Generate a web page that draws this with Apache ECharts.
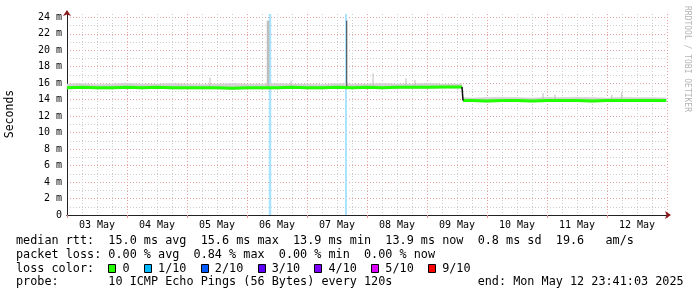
<!DOCTYPE html>
<html>
<head>
<meta charset="utf-8">
<script src="https://cdn.jsdelivr.net/npm/echarts@6/dist/echarts.min.js"></script>
<style>
html,body{margin:0;padding:0;background:#fff}
#main{width:697px;height:297px}
</style>
</head>
<body>
<div id="main"></div>
<script>
// hours since 03 May 00:00
var hours = [0,6,12,18,24,30,36,42,48,54,60,66,72,78,84,90,96,102,108,114,120,126,132,138,144,150,156,
  158,158.2,158.4,162,168,174,180,186,192,198,204,210,216,222,228,234,239.7];
// median rtt in ms
var median = [15.45,15.5,15.45,15.45,15.5,15.45,15.5,15.45,15.45,15.45,15.45,15.4,15.45,15.45,15.45,15.5,15.45,15.45,15.5,15.45,15.5,15.45,15.5,15.5,15.5,15.55,15.55,
  15.55,null,13.9,13.9,13.85,13.9,13.9,13.85,13.9,13.9,13.9,13.85,13.9,13.9,13.9,13.9,13.9];
var smokeLow = [15.3,15.35,15.3,15.3,15.35,15.3,15.35,15.3,15.3,15.3,15.3,15.25,15.3,15.3,15.3,15.35,15.3,15.3,15.35,15.3,15.35,15.3,15.35,15.35,15.35,15.4,15.4,
  15.4,null,13.75,13.75,13.7,13.75,13.75,13.7,13.75,13.75,13.75,13.7,13.75,13.75,13.75,13.75,13.75];
var smokeHigh = [15.9,15.95,15.85,15.9,16.0,15.9,15.9,15.95,15.9,15.85,15.9,15.95,15.9,15.9,15.95,15.9,15.9,15.85,15.95,15.9,15.9,15.95,15.9,15.9,16.0,15.9,15.9,
  15.9,null,14.25,14.2,14.25,14.3,14.25,14.2,14.3,14.25,14.3,14.25,14.2,14.3,14.25,14.25,14.2];

// single smoke spikes
var spikeHours = [57.2,80.4,89.6,122.4,135.6,139.2,190.4,195.2,217.9,221.9];
var spikeLow   = [15.6,15.6,15.6,15.6,15.6,15.6,14.0,14.0,14.0,14.0];
var spikeHigh  = [16.7,23.6,16.3,17.2,16.6,16.4,14.8,14.6,14.6,14.9];
var darkHours = [111.9];
var darkLow   = [15.6];
var darkHigh  = [23.6];

// packet loss (1/10) events
var lossHours = [81.2,111.6];

var dayLabels = ['03 May','04 May','05 May','06 May','07 May','08 May','09 May','10 May','11 May','12 May'];

var lossNames  = ['0','1/10','2/10','3/10','4/10','5/10','9/10'];
var lossColors = ['#26ff00','#00b8ff','#0059ff','#5e00ff','#7e00ff','#dd00ff','#ff0000'];

var statLines = [
  'median rtt:  15.0 ms avg  15.6 ms max  13.9 ms min  13.9 ms now  0.8 ms sd  19.6   am/s',
  'packet loss: 0.00 % avg  0.84 % max  0.00 % min  0.00 % now',
  null,
  'probe:       10 ICMP Echo Pings (56 Bytes) every 120s            end: Mon May 12 23:41:03 2025'
];

var MONO = 'DejaVu Sans Mono';
var FS = 11.8, CW = FS * 0.602, TX = 16;
var lineY = [240.5, 254.5, 268.5, 282];

var chart = echarts.init(document.getElementById('main'));

var graphics = [];
statLines.forEach(function (s, i) {
  if (s === null) return;
  graphics.push({type:'text', x:TX, y:lineY[i], silent:true,
    style:{text:s, font:FS + 'px "' + MONO + '"', fill:'#000', textVerticalAlign:'middle'}});
});
var legendText = 'loss color:  ';
var swatchIdx = [];
lossNames.forEach(function (n) {
  swatchIdx.push(legendText.length);
  legendText += '  ' + n + '  ';
});
graphics.push({type:'text', x:TX, y:lineY[2], silent:true,
  style:{text:legendText, font:FS + 'px "' + MONO + '"', fill:'#000', textVerticalAlign:'middle'}});
swatchIdx.forEach(function (idx, i) {
  graphics.push({type:'rect', silent:true,
    shape:{x:Math.round(TX + idx * CW) + 0.5, y:264.5, width:7, height:8},
    style:{fill:lossColors[i], stroke:'#000', lineWidth:1}});
});
graphics.push({type:'text', x:10, y:114, rotation:Math.PI / 2, silent:true,
  style:{text:'Seconds', font:'11.5px "' + MONO + '"', fill:'#000', textAlign:'center', textVerticalAlign:'middle'}});
graphics.push({type:'text', x:687, y:59, rotation:-Math.PI / 2, silent:true,
  style:{text:'RRDTOOL / TOBI OETIKER', font:'8px "' + MONO + '"', fill:'#b4b4b4', textAlign:'center', textVerticalAlign:'middle'}});

var minorLine = {show:true, showMinLine:false, lineStyle:{color:'#cdcdcd', width:1, type:[1,2]}};
var majorLine = {show:true, showMinLine:false, lineStyle:{color:'#e6a0a0', width:1, type:[1,2]}};

function vline(api, h, lo, hi, color, w) {
  var a = api.coord([h, lo]), b = api.coord([h, hi]);
  return {type:'line', shape:{x1:a[0], y1:a[1], x2:b[0], y2:b[1]}, style:{stroke:color, lineWidth:w}};
}

option = {
  animation: false,
  backgroundColor: '#fff',
  grid: {left:67, right:30, top:14, bottom:82},
  xAxis: [
    {
      type:'value', min:0, max:240, interval:6, position:'bottom',
      axisLine:{show:true, lineStyle:{color:'#8b1a1a'}, symbol:['none','arrow'], symbolSize:[6,6], symbolOffset:[0,4]},
      axisTick:{show:false},
      axisLabel:{
        color:'#000', fontFamily:MONO, fontSize:10, margin:5, hideOverlap:false,
        formatter:function (v) { return (v % 24 === 12) ? dayLabels[(v - 12) / 24] : ''; }
      },
      splitLine:minorLine
    },
    {
      type:'value', min:0, max:240, interval:24, position:'bottom',
      axisLine:{show:true, lineStyle:{color:'#222'}},
      axisTick:{show:true, length:3, lineStyle:{color:'#e08a8a'}},
      axisLabel:{show:false},
      splitLine:majorLine
    }
  ],
  yAxis: [
    {
      type:'value', min:0, max:24.4, interval:1, position:'left',
      axisLine:{show:true, lineStyle:{color:'#8b1a1a'}, symbol:['none','arrow'], symbolSize:[6,6], symbolOffset:[0,4]},
      axisTick:{show:false},
      axisLabel:{show:false},
      splitLine:{show:true, showMinLine:false, showMaxLine:false, lineStyle:minorLine.lineStyle}
    },
    {
      type:'value', min:0, max:24.4, interval:2, position:'left',
      axisLine:{show:true, lineStyle:{color:'#222'}},
      axisTick:{show:false},
      axisLabel:{
        color:'#000', fontFamily:MONO, fontSize:10, margin:5, showMaxLabel:false,
        formatter:function (v) { return v === 0 ? '0' : (v % 2 === 0 ? v + ' m' : ''); }
      },
      splitLine:{show:true, showMinLine:false, showMaxLine:false, lineStyle:majorLine.lineStyle}
    }
  ],
  series: [
    {
      name:'loss', type:'custom', silent:true, xAxisIndex:0, yAxisIndex:0,
      data: lossHours.map(function (h) { return [h, 0]; }),
      encode:{x:0, y:1},
      renderItem:function (params, api) {
        var p = api.coord([api.value(0), 0]);
        var cs = params.coordSys;
        return {type:'line', shape:{x1:p[0], y1:cs.y, x2:p[0], y2:cs.y + cs.height},
          style:{stroke:'#aae4fc', lineWidth: params.dataIndex === 0 ? 2.5 : 2}};
      }
    },
    {
      // smoke band between smokeLow and smokeHigh, one polygon per segment
      name:'smoke', type:'custom', silent:true, xAxisIndex:0, yAxisIndex:0,
      data: hours.map(function (h, i) { return [h, smokeLow[i], smokeHigh[i]]; }),
      encode:{x:0, y:[1,2]},
      renderItem:function (params, api) {
        var i = params.dataIndex;
        if (i >= hours.length - 1 || smokeLow[i] === null || smokeLow[i + 1] === null) return null;
        var pts = [
          api.coord([hours[i], smokeLow[i]]),
          api.coord([hours[i + 1], smokeLow[i + 1]]),
          api.coord([hours[i + 1], smokeHigh[i + 1]]),
          api.coord([hours[i], smokeHigh[i]])
        ];
        return {type:'polygon', shape:{points:pts}, style:{fill:'#d2d2d2', stroke:'#d2d2d2', lineWidth:0.5}};
      }
    },
    {
      name:'spikes', type:'custom', silent:true, xAxisIndex:0, yAxisIndex:0,
      data: spikeHours.map(function (h, i) { return [h, spikeLow[i], spikeHigh[i]]; }),
      encode:{x:0, y:[1,2]},
      renderItem:function (params, api) {
        var lo = api.value(1), hi = api.value(2);
        return vline(api, api.value(0), lo, hi, '#bdbdbd', (hi - lo > 5) ? 2.5 : 1);
      }
    },
    {
      name:'median', type:'line', silent:true, showSymbol:false, connectNulls:false,
      xAxisIndex:0, yAxisIndex:0,
      data: hours.map(function (h, i) { return [h, median[i]]; }),
      lineStyle:{color:'#22ff00', width:3},
      markLine:(function () {
        var k = median.indexOf(null);
        return {
          silent:true, symbol:'none', label:{show:false},
          lineStyle:{color:'#111', width:1.5, type:'solid'},
          data:[[{coord:[hours[k - 1], median[k - 1]]}, {coord:[hours[k + 1], median[k + 1]]}]]
        };
      })()
    },
    {
      name:'darkSpike', type:'custom', silent:true, xAxisIndex:0, yAxisIndex:0,
      data: darkHours.map(function (h, i) { return [h, darkLow[i], darkHigh[i]]; }),
      encode:{x:0, y:[1,2]},
      renderItem:function (params, api) {
        return vline(api, api.value(0), api.value(1), api.value(2), '#3a3a3a', 1);
      }
    }
  ],
  graphic: graphics
};

chart.setOption(option);
</script>
</body>
</html>
